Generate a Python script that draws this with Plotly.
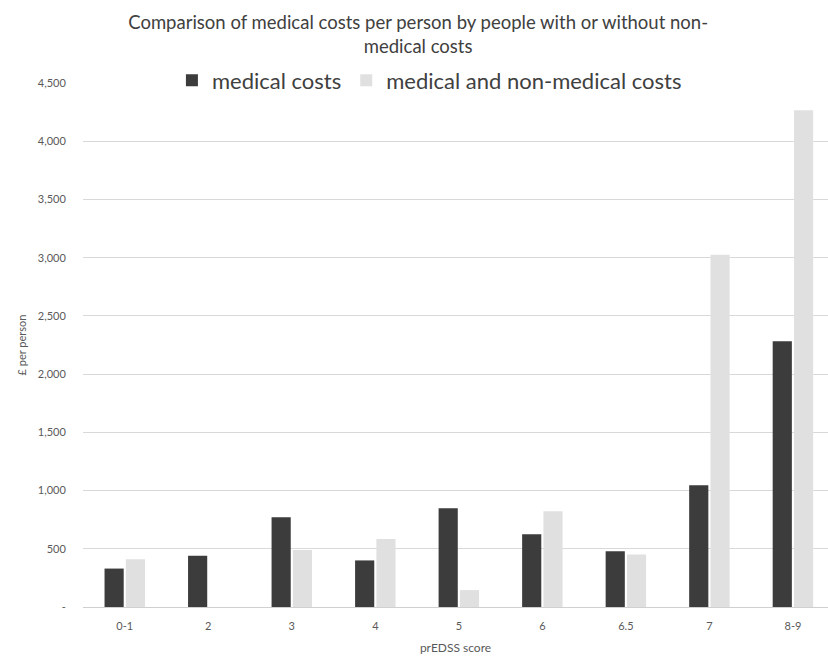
import plotly.graph_objects as go

categories = ["0-1", "2", "3", "4", "5", "6", "6.5", "7", "8-9"]
medical = [330, 440, 770, 400, 848, 625, 478, 1045, 2282]
medical_nonmedical = [410, None, 490, 585, 145, 822, 450, 3025, 4265]
y_ticks = [0, 500, 1000, 1500, 2000, 2500, 3000, 3500, 4000, 4500]
y_ticktext = ["-", "500", "1,000", "1,500", "2,000", "2,500", "3,000", "3,500", "4,000", "4,500"]

FONT = "Lato, Open Sans, sans-serif"
TXT = "#595959"

fig = go.Figure()
fig.add_trace(go.Bar(x=categories, y=medical, name="medical costs",
                     marker=dict(color="#3c3c3c", line=dict(width=0))))
fig.add_trace(go.Bar(x=categories, y=medical_nonmedical, name="medical and non-medical costs",
                     marker=dict(color="#e0e0e0", line=dict(width=0))))

fig.update_layout(
    width=828, height=656,
    margin=dict(l=83, r=0, t=83, b=49),
    paper_bgcolor="white", plot_bgcolor="white",
    font=dict(family=FONT, color=TXT),
    barmode="group", bargap=0.49, bargroupgap=0.1,
    title=dict(
        text="Comparison of medical costs per person by people with or without non-<br>medical costs",
        x=0.505, xref="container", xanchor="center",
        y=0.956, yref="container", yanchor="middle",
        font=dict(size=18.5, color="#404040", family=FONT),
    ),
    legend=dict(
        orientation="h", x=0.465, xanchor="center", y=1.005, yanchor="middle",
        bgcolor="rgba(0,0,0,0)", font=dict(size=22, color="#404040", family=FONT),
        itemwidth=30, traceorder="normal",
    ),
    showlegend=True,
)

fig.update_xaxes(
    range=[-0.5, 8.42], showgrid=False, showline=False, zeroline=False,
    ticks="outside", ticklen=9, tickcolor="rgba(0,0,0,0)",
    tickfont=dict(size=11, color=TXT),
    title=dict(text="prEDSS score", font=dict(size=12, color=TXT), standoff=12),
)
fig.update_yaxes(
    range=[0, 4500], tickvals=y_ticks, ticktext=y_ticktext,
    showgrid=True, gridcolor="#d9d9d9", gridwidth=1,
    zeroline=True, zerolinecolor="#d0d0d0", zerolinewidth=1,
    showline=False, ticks="outside", ticklen=14, tickcolor="rgba(0,0,0,0)",
    tickfont=dict(size=11, color=TXT),
    title=dict(text="£ per person", font=dict(size=11, color=TXT), standoff=8),
)

fig.write_html("out.html")
